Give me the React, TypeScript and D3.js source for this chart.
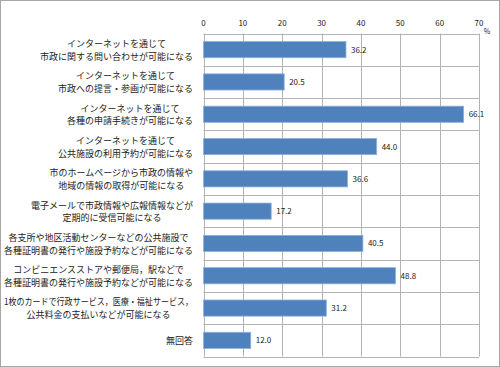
import React, { useEffect, useRef } from "react";
import * as d3 from "d3";

const categories: string[][] = [
  ["インターネットを通じて", "市政に関する問い合わせが可能になる"],
  ["インターネットを通じて", "市政への提言・参画が可能になる"],
  ["インターネットを通じて", "各種の申請手続きが可能になる"],
  ["インターネットを通じて", "公共施設の利用予約が可能になる"],
  ["市のホームページから市政の情報や", "地域の情報の取得が可能になる"],
  ["電子メールで市政情報や広報情報などが", "定期的に受信可能になる"],
  ["各支所や地区活動センターなどの公共施設で", "各種証明書の発行や施設予約などが可能になる"],
  ["コンビニエンスストアや郵便局，駅などで", "各種証明書の発行や施設予約などが可能になる"],
  ["1枚のカードで行政サービス，医療・福祉サービス，", "公共料金の支払いなどが可能になる"],
  ["無回答"],
];
const values: number[] = [36.2, 20.5, 66.1, 44.0, 36.6, 17.2, 40.5, 48.8, 31.2, 12.0];
const ticks: number[] = [0, 10, 20, 30, 40, 50, 60, 70];
const unitLabel = "%";

const W = 500;
const H = 367;
const FONT = "'Noto Sans CJK JP', 'Noto Sans', sans-serif";

export default function App() {
  const ref = useRef<SVGSVGElement | null>(null);

  useEffect(() => {
    const svg = d3.select(ref.current);
    svg.selectAll("*").remove();

    const left = 203.5, right = 479, top = 33.5, bottom = 356.5;
    const x = d3.scaleLinear().domain([0, 70]).range([left, right]);
    const y = d3
      .scaleBand<number>()
      .domain(d3.range(categories.length))
      .range([top, bottom])
      .paddingInner(0.5)
      .paddingOuter(0.25);
    const band = (bottom - top) / categories.length;

    svg
      .append("rect")
      .attr("x", 0.5)
      .attr("y", 0.5)
      .attr("width", W - 1)
      .attr("height", H - 1)
      .attr("fill", "#fff")
      .attr("stroke", "#a6a6a6")
      .attr("stroke-width", 1);

    const g = svg.append("g");

    g.selectAll("line.v")
      .data(ticks)
      .join("line")
      .attr("x1", (d) => Math.round(x(d)) + 0.5)
      .attr("x2", (d) => Math.round(x(d)) + 0.5)
      .attr("y1", top)
      .attr("y2", bottom)
      .attr("stroke", "#b3b3b3")
      .attr("stroke-width", 1);

    g.selectAll("line.h")
      .data(d3.range(categories.length + 1))
      .join("line")
      .attr("x1", left)
      .attr("x2", right)
      .attr("y1", (d) => Math.round(top + d * band) + 0.5)
      .attr("y2", (d) => Math.round(top + d * band) + 0.5)
      .attr("stroke", "#b3b3b3")
      .attr("stroke-width", 1);

    g.selectAll("text.tick")
      .data(ticks)
      .join("text")
      .attr("x", (d) => x(d))
      .attr("y", 26)
      .attr("text-anchor", "middle")
      .attr("font-size", 8)
      .attr("font-family", FONT)
      .attr("fill", "#222")
      .text((d) => String(d));

    g.append("text")
      .attr("x", 487)
      .attr("y", 34)
      .attr("text-anchor", "middle")
      .attr("font-size", 7)
      .attr("font-family", FONT)
      .attr("fill", "#222")
      .text(unitLabel);

    g.selectAll("rect.bar")
      .data(values)
      .join("rect")
      .attr("x", x(0))
      .attr("y", (_, i) => (y(i) as number))
      .attr("width", (d) => x(d) - x(0))
      .attr("height", y.bandwidth())
      .attr("fill", "#4f81bd")
      .attr("stroke", "#8db0dc")
      .attr("stroke-width", 0.8);

    g.selectAll("text.val")
      .data(values)
      .join("text")
      .attr("x", (d) => x(d) + 5)
      .attr("y", (_, i) => (y(i) as number) + y.bandwidth() / 2 + 3)
      .attr("font-size", 8)
      .attr("font-family", FONT)
      .attr("fill", "#222")
      .text((d) => d.toFixed(1));

    const fs = 9;
    const lh = 12.7;
    const maxAllowed = 189;
    categories.forEach((lines, i) => {
      const cy = top + (i + 0.5) * band + 0.5;
      const grp = g.append("g");
      const texts = lines.map((ln, j) =>
        grp
          .append("text")
          .attr("y", cy + (j - (lines.length - 1) / 2) * lh + fs * 0.36)
          .attr("text-anchor", "middle")
          .attr("font-size", fs)
          .attr("font-family", FONT)
          .attr("fill", "#222")
          .text(ln)
      );
      const widths = texts.map((t) => {
        let w = (t.node() as SVGTextElement).getComputedTextLength();
        if (w > maxAllowed) {
          t.attr("textLength", maxAllowed).attr("lengthAdjust", "spacingAndGlyphs");
          w = maxAllowed;
        }
        return w;
      });
      const maxW = Math.max(...widths);
      texts.forEach((t) => t.attr("x", 193 - maxW / 2));
    });
  }, []);

  return (
    <svg
      ref={ref}
      width={W}
      height={H}
      style={{ position: "absolute", left: 0, top: 0, display: "block" }}
    />
  );
}
